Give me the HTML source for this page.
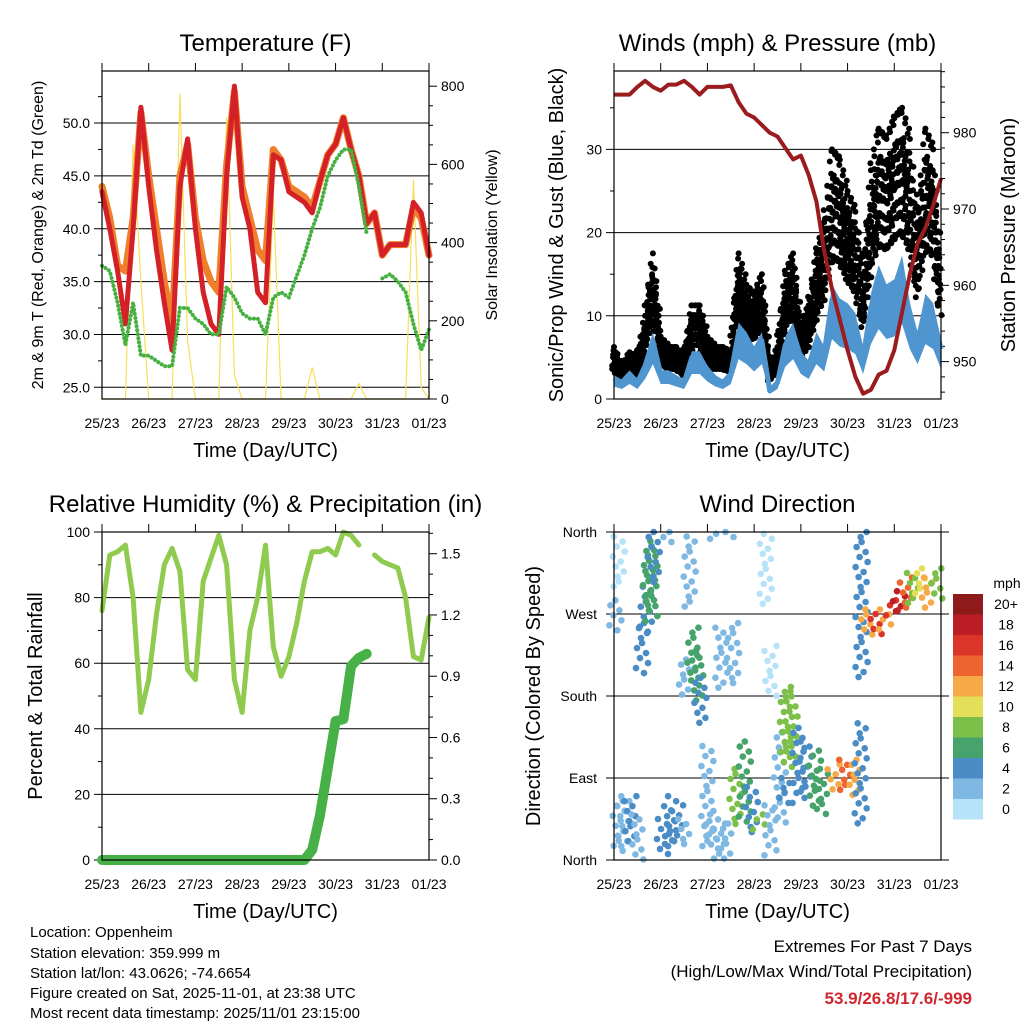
<!DOCTYPE html>
<html><head><meta charset="utf-8"><style>
html,body{margin:0;padding:0;background:#fff;}
svg{display:block;font-family:"Liberation Sans",sans-serif;}
</style></head><body>
<svg id="s" width="1024" height="1024" viewBox="0 0 1024 1024" xmlns="http://www.w3.org/2000/svg">
<rect x="0" y="0" width="1024" height="1024" fill="#fff"/>
<g id="g1"></g>
<g id="g2"></g>
<g id="g3"></g>
<g id="g4"></g>
<g font-size="15" fill="#000">
<text x="30" y="937">Location: Oppenheim</text>
<text x="30" y="958">Station elevation: 359.999 m</text>
<text x="30" y="978">Station lat/lon: 43.0626; -74.6654</text>
<text x="30" y="998">Figure created on Sat, 2025-11-01, at 23:38 UTC</text>
<text x="30" y="1018">Most recent data timestamp: 2025/11/01 23:15:00</text>
</g>
<g text-anchor="end">
<text x="972" y="952" font-size="17">Extremes For Past 7 Days</text>
<text x="972" y="977" font-size="17">(High/Low/Max Wind/Total Precipitation)</text>
<text x="972" y="1004" font-size="17" font-weight="bold" fill="#d0272f">53.9/26.8/17.6/-999</text>
</g>
</svg>
<script>
// ---- data (4-hourly, t = days since 25/23) ----
var dayLabels = ["25/23","26/23","27/23","28/23","29/23","30/23","31/23","01/23"];
var temp2m = [43.5,40,36,31,40,51.5,44,38,33,28.5,44,48.5,40,34,31,30,45,53.5,43,40,34,33,47,46.5,43.5,43,42.5,41.5,44.5,47,48,50.5,47.5,45,40.5,41.5,37.5,38.5,38.5,38.5,42.5,41.5,37.5];
var temp9m = [44,41,36.5,36,41,51,45,40,35,31,45,48,41,37,35,34,46,53,44,41,38,37,47.5,46.5,44,43.5,43,42,44.5,47,48,50.5,47.5,45,40.5,41.5,37.5,38.5,38.5,38.5,42,41,37.5];
var dewpt = [36.5,36,33,29,33,28,28,27.5,27,27,32.5,32.5,31.5,31,30,30,34.5,33.5,32,31.5,31.5,30,33.5,34,33.5,35.5,37.5,40,42,45,46.5,47.5,47.5,44,39.5,null,35.3,35.7,35,34,31,28.5,30.5];
var solar = [0,0,0,0,650,300,0,0,0,0,780,150,0,0,0,0,720,60,0,0,0,0,520,0,0,0,0,80,0,0,0,0,0,40,0,0,0,0,0,0,560,30,0];
var windSpd = [2.5,2,3,2,4,7,3,3,2.5,2,5,5,3.5,2.5,2,3,8,7,5.5,7,1,2,6.5,8,5,4,7,5.5,12,10.5,10,9,5,11,14,12,12.5,15,10,7,11,10,6];
var windGust = [5,3,4.5,4,8,14,6,5,5,4,9,9,6,5,5,4.5,14,11,10,12,3,5,12,14,7,9,14,17,24,23,20,18,12,22,26,25,27,28,25,17,26,24,12];
var pressure = [985,985,985,986,986.8,986,985.5,986.3,986.3,986.8,986,985,986,986,986,986.2,984,982.5,982,981,980,979.5,978,976.5,977,974.5,971,964.5,959.5,955.5,951.5,948,945.8,946.3,948.3,948.8,951.5,956.5,961.5,965.5,967.5,970.5,974];
var relHum = [76,93,94,96,80,45,55,75,90,95,88,58,55,85,92,99,90,55,45,70,80,96,65,56,62,72,85,94,94,95,93,100,99,96,null,93,91,90,89,80,62,61,74];
var precipIn = [0,0,0,0,0,0,0,0,0,0,0,0,0,0,0,0,0,0,0,0,0,0,0,0,0,0,0,0.05,0.22,0.45,0.68,0.69,0.95,0.99,1.01,null,null,null,null,null,null,null,null];
// wind direction streaks: time, dir low, dir high, speed
var dirTime = [0.03,0.1,0.1,0.2,0.35,0.5,0.6,0.68,0.75,0.8,0.85,1.05,1.1,1.2,1.35,1.5,1.5,1.62,1.7,1.78,1.85,2.0,2.1,2.1,2.25,2.3,2.4,2.45,2.55,2.6,2.8,2.95,3.1,3.25,3.35,3.35,3.55,3.65,3.68,3.8,3.95,4.1,4.3,4.45,4.7,4.95,5.15,5.28,5.3,5.4,5.6,5.8,5.95,6.1,6.25,6.4,6.55,6.7,6.9];
var dirLow = [250,300,10,15,20,0,200,250,270,260,300,5,345,15,20,15,180,275,200,170,150,10,350,15,0,185,0,350,190,35,40,30,30,280,180,5,40,60,100,110,60,75,55,50,75,75,70,40,200,245,245,250,265,270,275,280,290,275,285];
var dirHigh = [285,355,65,70,70,50,260,300,340,350,360,45,360,70,60,45,220,355,255,230,200,125,358,50,40,255,40,360,260,100,130,80,50,358,235,60,140,90,190,185,145,130,120,100,105,110,110,150,360,275,270,275,285,295,310,315,320,310,320];
var dirSpeed = [2,1,2,2,4,2,4,4,6,7,4,4,3,4,4,2,3,2,6,7,4,3,2,2,2,2,3,2,2,8,7,5,8,1,1,3,3,5,9,9,4,4,7,6,13,14,12,4,4,13,16,13,17,18,15,9,11,12,8];
var barLabels = ["0","2","4","6","8","10","12","14","16","18","20+"];
var barColors = ["#b6e3f8","#7fb9e3","#4a8cc6","#46a36c","#7cc04a","#e4de58","#f5a947","#ee6431","#db3428","#bc1e26","#8e1a1b"];

var NS="http://www.w3.org/2000/svg";
function mk(p,tag,at){var e=document.createElementNS(NS,tag);for(var k in at)e.setAttribute(k,at[k]);p.appendChild(e);return e;}
function tx(p,x,y,s,size,anchor,name,extra){var e=mk(p,"text",{x:x,y:y,"font-size":size,"text-anchor":anchor||"middle"});if(extra)for(var k in extra)e.setAttribute(k,extra[k]);e.textContent=s;


return e;}
function xAxis(L){return function(t){return L+t*327/7;};}
function pathD(arr,xf,yf){var d="",pen=false;for(var i=0;i<arr.length;i++){if(arr[i]===null){pen=false;continue;}var X=xf(i/6),Y=yf(arr[i]);d+=(pen?"L":"M")+X.toFixed(1)+" "+Y.toFixed(1);pen=true;}return d;}
function frame(g,L,T,R,B,title,name){
  mk(g,"rect",{x:L,y:T,width:R-L,height:B-T,fill:"none",stroke:"#000","stroke-width":1.2});
  var xf=xAxis(L);
  for(var i=0;i<dayLabels.length;i++){
    var X=xf(i);
    var tk=mk(g,"line",{x1:X,y1:T,x2:X,y2:T-8,stroke:"#000","stroke-width":1});
    
    
    tx(g,X,B+29,dayLabels[i],14,"middle","x-tick-label");
  }
  tx(g,(L+R)/2,B+58,"Time (Day/UTC)",20,"middle","x-axis-title");
  tx(g,(L+R)/2,T-20,title,24,"middle",name);
}
function hgrid(g,L,R,Y,lab){
  var ln=mk(g,"line",{x1:L-8,y1:Y,x2:R,y2:Y,stroke:"#000","stroke-width":1});
  
  
  tx(g,L-12,Y+5,lab,14,"end","y-tick-label");
}
function rtick(g,R,Y,lab,minor){
  var ln=mk(g,"line",{x1:R,y1:Y,x2:R+(minor?4:8),y2:Y,stroke:"#000","stroke-width":1});
  
  
  if(lab!==null)tx(g,R+12,Y+5,lab,14,"start","right-tick-label");
}
function ltick(g,L,Y){var ln=mk(g,"line",{x1:L,y1:Y,x2:L-4,y2:Y,stroke:"#000","stroke-width":1});
  
  }
function vtitle(g,x,y,s,size,name){var e=tx(g,x,y,s,size,"middle",name,{transform:"rotate(-90 "+x+" "+y+")"});return e;}

// ---- Panel 1: temperature ----
(function(){
 var g=document.getElementById("g1"),L=102,T=71,R=429,B=399,xf=xAxis(L);
 var yT=function(v){return 387.3-(v-25)*10.57;}, yS=function(v){return 399-v*0.391;};
 for(var v=25;v<=50;v+=5)hgrid(g,L,R,yT(v),v.toFixed(1));
 for(var v=27.5;v<=55;v+=5)ltick(g,L,yT(v));
 for(var s=0;s<=800;s+=50)rtick(g,R,yS(s),s%200===0?String(s):null,s%200!==0);
 var p;
 p=mk(g,"path",{d:pathD(solar,xf,yS),fill:"none",stroke:"#f7df5a","stroke-width":1.2,"stroke-linejoin":"round"});
 
 
 p=mk(g,"path",{d:pathD(temp9m,xf,yT),fill:"none",stroke:"#f07f2c","stroke-width":7,"stroke-linejoin":"round","stroke-linecap":"round"});
 
 
 p=mk(g,"path",{d:pathD(temp2m,xf,yT),fill:"none",stroke:"#d42027","stroke-width":5,"stroke-linejoin":"round","stroke-linecap":"round"});
 
 
 p=mk(g,"path",{d:pathD(dewpt,xf,yT),fill:"none",stroke:"#46b041","stroke-width":4,"stroke-dasharray":"0.1 4","stroke-linecap":"round"});
 
 
 frame(g,L,T,R,B,"Temperature (F)","temperature-title");
 vtitle(g,43,235,"2m & 9m T (Red, Orange) & 2m Td (Green)",16,"temp-y-axis-title");
 vtitle(g,497,235,"Solar Insolation (Yellow)",16,"solar-y-axis-title");
})();

// ---- Panel 2: winds & pressure ----
(function(){
 var g=document.getElementById("g2"),L=614,T=71,R=941,B=399,xf=xAxis(L);
 var yW=function(v){return 399-v*8.32;}, yP=function(v){return 399-(v-945.1)*7.63;};
 for(var v=0;v<=30;v+=10)hgrid(g,L,R,yW(v),String(v));
 for(var v=5;v<=35;v+=10)ltick(g,L,yW(v));
 for(var p=946;p<=988;p+=2)rtick(g,R,yP(p),p%10===0?String(p):null,p%10!==0);
 // gust dot cloud (rendering: spread dots along segments between data values)
 var spread=[0.72,0.86,1.0,1.12,1.25,0.8,0.94,1.06];
 var gd="";
 for(var i=0;i<windGust.length-1;i++){
  for(var k=0;k<6;k++){
   var f=k/6,v=windGust[i]*(1-f)+windGust[i+1]*f,X=xf((i+f)/6);
   for(var m=0;m<spread.length;m++){
    var xx=X+((m*3+k)%5-2)*0.9, yy=yW(v*spread[(m+k)%spread.length]);
    if(yy>B)yy=B;
    gd+="M"+xx.toFixed(1)+" "+yy.toFixed(1)+"h0.01";
   }
  }
 }
 var e;
 e=mk(g,"path",{d:gd,fill:"none",stroke:"#000","stroke-width":6,"stroke-linecap":"round"});
 
 
 function band(arr,lo,hi){var d="";for(var i=0;i<arr.length;i++)d+=(i?"L":"M")+xf(i/6).toFixed(1)+" "+yW(arr[i]*hi).toFixed(1);for(var i=arr.length-1;i>=0;i--)d+="L"+xf(i/6).toFixed(1)+" "+yW(arr[i]*lo).toFixed(1);return d+"Z";}
 e=mk(g,"path",{d:band(windSpd,0.6,1.15),fill:"#4f95d0"});
 
 
 e=mk(g,"path",{d:pathD(windSpd,xf,yW),fill:"none",stroke:"#4f95d0","stroke-width":5,"stroke-linejoin":"round"});
 
 
 e=mk(g,"path",{d:pathD(pressure,xf,yP),fill:"none",stroke:"#9b1c1f","stroke-width":4,"stroke-linejoin":"round"});
 
 
 frame(g,L,T,R,B,"Winds (mph) & Pressure (mb)","winds-title");
 vtitle(g,563,235,"Sonic/Prop Wind & Gust (Blue, Black)",20,"wind-y-axis-title");
 vtitle(g,1015,235,"Station Pressure (Maroon)",20,"pressure-y-axis-title");
})();

// ---- Panel 3: RH & precip ----
(function(){
 var g=document.getElementById("g3"),L=102,T=532,R=429,B=860,xf=xAxis(L);
 var yR=function(v){return 860-v*3.28;}, yP=function(v){return 860-v*204.2;};
 for(var v=0;v<=100;v+=20)hgrid(g,L,R,yR(v),String(v));
 for(var v=10;v<=90;v+=20)ltick(g,L,yR(v));
 for(var k=0;k<=16;k++){var p=k*0.1;rtick(g,R,yP(p),k%3===0?p.toFixed(1):null,k%3!==0);}
 var e;
 e=mk(g,"path",{d:pathD(relHum,xf,yR),fill:"none",stroke:"#8fcb4f","stroke-width":5,"stroke-linejoin":"round","stroke-linecap":"round"});
 
 
 e=mk(g,"path",{d:pathD(precipIn,xf,yP),fill:"none",stroke:"#47b148","stroke-width":10,"stroke-linejoin":"round","stroke-linecap":"round"});
 
 
 frame(g,L,T,R,B,"Relative Humidity (%) & Precipitation (in)","humidity-title");
 vtitle(g,42,696,"Percent & Total Rainfall",20,"rh-y-axis-title");
})();

// ---- Panel 4: wind direction ----
(function(){
 var g=document.getElementById("g4"),L=614,T=532,R=941,B=860,xf=xAxis(L);
 var yD=function(d){return 860-d*328/360;};
 var names=["North","East","South","West","North"];
 for(var i=0;i<5;i++){var ln=mk(g,"line",{x1:L-8,y1:yD(i*90),x2:R+8,y2:yD(i*90),stroke:"#000","stroke-width":1});
  
  
  tx(g,L-17,yD(i*90)+5,names[i],14,"end","direction-label");}
 function col(s){var k=Math.min(10,Math.floor(s/2));return barColors[k];}
 var jit=[0,-5,4,-2,6,-6,2,-3,5,-1];
 for(var i=0;i<dirTime.length;i++){
  var X=xf(dirTime[i]),y1=yD(dirHigh[i]),y2=yD(dirLow[i]);
  for(var y=y1,j=0;y<=y2;y+=5,j++){
   var c=mk(g,"circle",{cx:(X+jit[(j+i)%jit.length]).toFixed(1),cy:y.toFixed(1),r:3.3,fill:col(dirSpeed[i])});
   
   
  }
 }
 frame(g,L,T,R,B,"Wind Direction","direction-title");
 vtitle(g,540,696,"Direction (Colored By Speed)",20,"direction-y-axis-title");
 tx(g,1007,588,"mph",14,"middle","colorbar-title");
 for(var k=0;k<barColors.length;k++){
  var yy=799-k*20.5;
  var r=mk(g,"rect",{x:953,y:yy,width:30,height:20.5,fill:barColors[k]});
  
  
  tx(g,1006,yy+15,barLabels[k],14,"middle","colorbar-label");
 }
})();
</script>
</body></html>
